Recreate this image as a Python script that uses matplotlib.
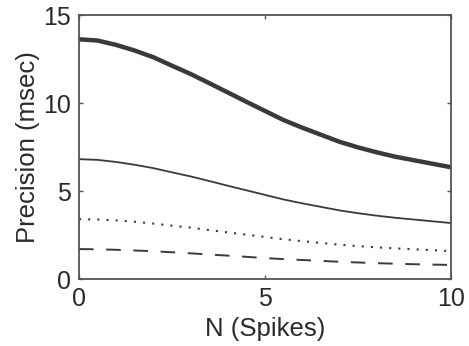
import numpy as np
import matplotlib
matplotlib.use('Agg')
import matplotlib.pyplot as plt

plt.rcParams['font.family'] = ['Liberation Sans', 'DejaVu Sans']

# Number of spikes
n_spikes = [0, 0.5, 1, 1.5, 2, 2.5, 3, 3.5, 4, 4.5, 5,
            5.5, 6, 6.5, 7, 7.5, 8, 8.5, 9, 9.5, 10]

# Precision curves (msec)
prec_thick = [13.62, 13.55, 13.3, 12.98, 12.6, 12.12, 11.65, 11.13, 10.6, 10.07, 9.55,
              9.03, 8.6, 8.2, 7.8, 7.48, 7.2, 6.95, 6.75, 6.55, 6.35]
prec_solid = [6.81, 6.77, 6.65, 6.49, 6.3, 6.06, 5.83, 5.57, 5.3, 5.04, 4.78,
              4.52, 4.3, 4.1, 3.9, 3.74, 3.6, 3.48, 3.38, 3.28, 3.18]
prec_dotted = [3.4, 3.38, 3.33, 3.25, 3.15, 3.03, 2.92, 2.78, 2.65, 2.52, 2.39,
               2.26, 2.15, 2.05, 1.95, 1.87, 1.8, 1.74, 1.69, 1.64, 1.59]
prec_dashed = [1.7, 1.69, 1.66, 1.62, 1.58, 1.52, 1.46, 1.39, 1.33, 1.26, 1.19,
               1.13, 1.08, 1.03, 0.98, 0.94, 0.9, 0.87, 0.84, 0.82, 0.8]

x_ticks = [0, 5, 10]
y_ticks = [0, 5, 10, 15]

fig = plt.figure(figsize=(4.69, 3.46), dpi=100)
ax = fig.add_axes([0.1684, 0.1936, 0.7932, 0.763])

line_col = '#3a3a3a'
ax.plot(n_spikes, prec_thick, color=line_col, lw=3.2, solid_joinstyle='round')
ax.plot(n_spikes, prec_solid, color=line_col, lw=1.3)
ax.plot(n_spikes, prec_dotted, color=line_col, lw=1.5, linestyle=(0, (1, 3.4)))
ax.plot(n_spikes, prec_dashed, color=line_col, lw=1.4, linestyle=(0, (7.5, 6.5)))

ax.set_xlim(0, 10)
ax.set_ylim(0, 15)
ax.set_xticks(x_ticks)
ax.set_yticks(y_ticks)

text_col = '#2a2a2a'
ax.tick_params(direction='in', length=3, width=1, top=True, right=True,
               labelsize=18, colors='#555555', labelcolor=text_col, pad=6)
for s in ax.spines.values():
    s.set_linewidth(1.3)
    s.set_color('#555555')

ax.set_xlabel('N (Spikes)', fontsize=18.5, color=text_col, labelpad=4)
ax.set_ylabel('Precision (msec)', fontsize=18.5, color=text_col, labelpad=2)

fig.savefig('out.png', dpi=100)
